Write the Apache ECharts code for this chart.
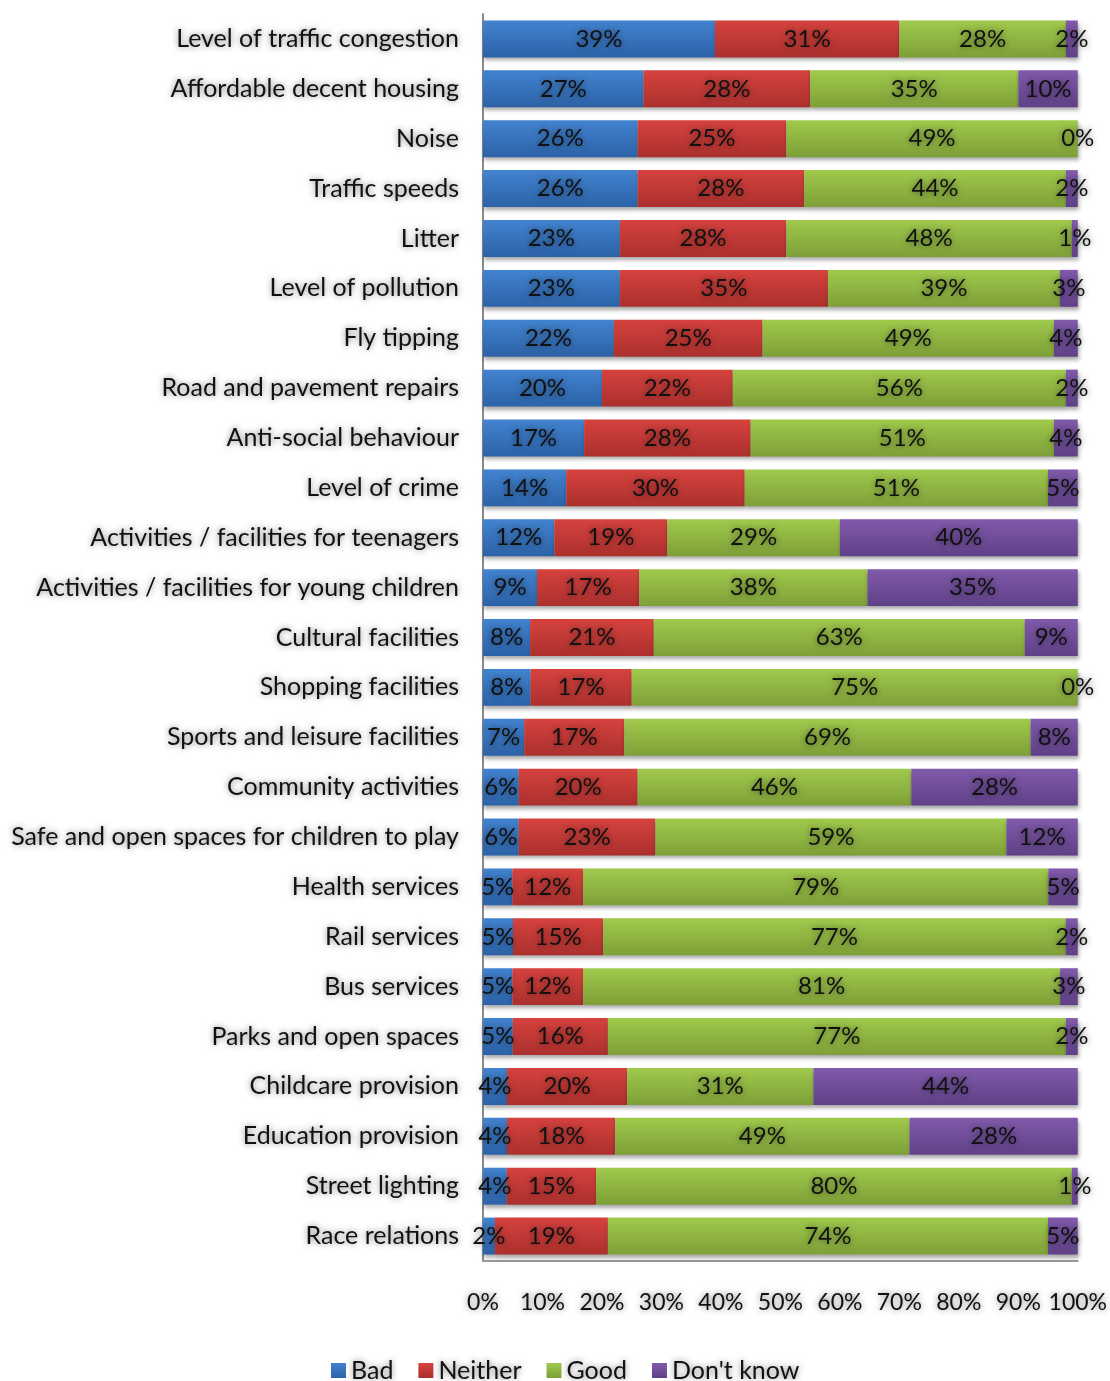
<!DOCTYPE html>
<html>
<head>
<meta charset="utf-8">
<title>Satisfaction with local services</title>
<script src="https://cdn.jsdelivr.net/npm/echarts@6/dist/echarts.min.js"></script>
<style>
  html, body { margin: 0; padding: 0; background: #fff; }
  #chart { width: 1110px; height: 1381px; }
</style>
</head>
<body>
<div id="chart"></div>
<script>
// Survey topics, top to bottom
const categories = [
  'Level of traffic congestion', 'Affordable decent housing', 'Noise', 'Traffic speeds',
  'Litter', 'Level of pollution', 'Fly tipping', 'Road and pavement repairs',
  'Anti-social behaviour', 'Level of crime', 'Activities / facilities for teenagers',
  'Activities / facilities for young children', 'Cultural facilities', 'Shopping facilities',
  'Sports and leisure facilities', 'Community activities',
  'Safe and open spaces for children to play', 'Health services', 'Rail services',
  'Bus services', 'Parks and open spaces', 'Childcare provision', 'Education provision',
  'Street lighting', 'Race relations'
];

// Percent of respondents per answer
const bad      = [39, 27, 26, 26, 23, 23, 22, 20, 17, 14, 12,  9,  8,  8,  7,  6,  6,  5,  5,  5,  5,  4,  4,  4,  2];
const neither  = [31, 28, 25, 28, 28, 35, 25, 22, 28, 30, 19, 17, 21, 17, 17, 20, 23, 12, 15, 12, 16, 20, 18, 15, 19];
const good     = [28, 35, 49, 44, 48, 39, 49, 56, 51, 51, 29, 38, 63, 75, 69, 46, 59, 79, 77, 81, 77, 31, 49, 80, 74];
const dontKnow = [ 2, 10,  0,  2,  1,  3,  4,  2,  4,  5, 40, 35,  9,  0,  8, 28, 12,  5,  2,  3,  2, 44, 28,  1,  5];

const xTicks = ['0%', '10%', '20%', '30%', '40%', '50%', '60%', '70%', '80%', '90%', '100%'];

const FONT = 'Lato, "Open Sans", sans-serif';
const glow = { textShadowColor: 'rgba(0,0,0,0.5)', textShadowBlur: 6 };

// Row totals, so each bar fills the 100% width
const totals = categories.map((_, i) => bad[i] + neither[i] + good[i] + dontKnow[i]);

function grad(top, bottom) {
  return new echarts.graphic.LinearGradient(0, 0, 0, 1, [
    { offset: 0, color: top }, { offset: 1, color: bottom }
  ]);
}

function makeSeries(name, values, top, bottom) {
  return {
    name: name,
    type: 'bar',
    stack: 'all',
    barCategoryGap: '26%',
    clip: false,
    data: values.map((v, i) => ({ value: v * 100 / totals[i], raw: v })),
    itemStyle: {
      color: grad(top, bottom),
      shadowColor: 'rgba(0,0,0,0.35)',
      shadowBlur: 4,
      shadowOffsetY: 3,
      shadowOffsetX: 1
    },
    label: {
      show: true,
      position: 'inside',
      formatter: p => p.data.raw + '%',
      color: '#111',
      fontFamily: FONT,
      fontSize: 24,
      ...glow
    },
    emphasis: { disabled: true }
  };
}

const chart = echarts.init(document.getElementById('chart'), null, { renderer: 'canvas' });

chart.setOption({
  animation: false,
  backgroundColor: '#fff',
  grid: { left: 483, right: 32, top: 14, bottom: 120, containLabel: false },
  legend: {
    bottom: -7,
    left: 326,
    itemWidth: 15,
    itemHeight: 15,
    itemGap: 25,
    icon: 'rect',
    textStyle: { fontFamily: FONT, fontSize: 25, color: '#111', ...glow },
    data: ['Bad', 'Neither', 'Good', "Don't know"]
  },
  xAxis: {
    type: 'value',
    min: 0,
    max: 100,
    interval: 10,
    splitLine: { show: false },
    axisLine: { show: true, lineStyle: { color: '#9a9a9a', width: 2 } },
    axisTick: { show: false },
    axisLabel: {
      formatter: v => xTicks[Math.round(v / 10)],
      fontFamily: FONT,
      fontSize: 23,
      color: '#111',
      margin: 30,
      ...glow
    }
  },
  yAxis: {
    type: 'category',
    inverse: true,
    data: categories,
    axisLine: { show: true, lineStyle: { color: '#8a8a8a', width: 2 } },
    axisTick: { show: false },
    axisLabel: {
      fontFamily: FONT,
      fontSize: 25,
      color: '#111',
      margin: 24,
      ...glow
    }
  },
  series: [
    makeSeries('Bad', bad, '#4283d0', '#2c62a7'),
    makeSeries('Neither', neither, '#d6423e', '#ab302d'),
    makeSeries('Good', good, '#a0ca4c', '#7e9f38'),
    makeSeries("Don't know", dontKnow, '#815aab', '#5f4187')
  ]
});
</script>
</body>
</html>
